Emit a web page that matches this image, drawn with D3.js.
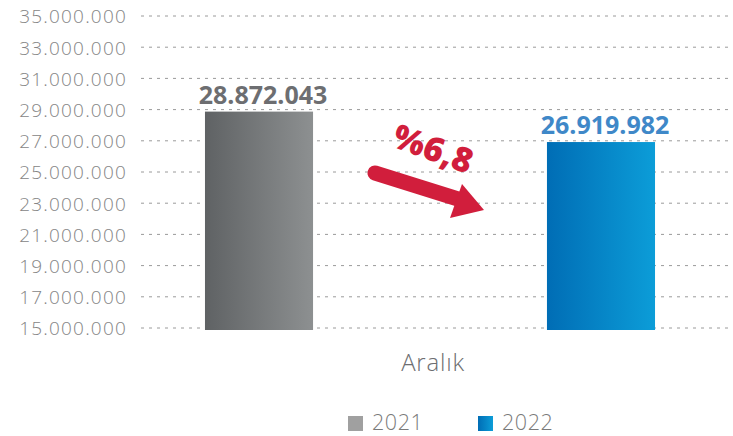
<!DOCTYPE html>
<html><head><meta charset="utf-8">
<script src="https://cdn.jsdelivr.net/npm/d3@7"></script>
<style>
html,body{margin:0;padding:0;background:#fff;}
svg{display:block;font-family:"Open Sans",sans-serif;}
</style></head>
<body>
<svg id="chart" width="733" height="436"></svg>
<script>
const categories = ["Aralık"];
const series = ["2021", "2022"];
const values = [28872043, 26919982];
const yTicks = [15000000,17000000,19000000,21000000,23000000,25000000,27000000,29000000,31000000,33000000,35000000];
const changeLabel = "%6,8";

const svg = d3.select("#chart");
const loc = d3.formatLocale({decimal: ",", thousands: ".", grouping: [3], currency: ["", ""]});
const fmt = loc.format(",");

const y = d3.scaleLinear().domain([15000000, 35000000]).range([328, 16]);
const x0 = d3.scaleBand().domain(categories).range([140, 720]);
const x1 = d3.scaleBand().domain(series).range([0, x0.bandwidth()]).paddingInner(0.684).paddingOuter(0.19);

const defs = svg.append("defs");
const gradColors = {"2021": ["#5f6264", "#8d9091"], "2022": ["#006db5", "#0c9dd8"]};
series.forEach((s, i) => {
  const g = defs.append("linearGradient").attr("id", "g" + i).attr("x1", "0").attr("x2", "1").attr("y1", "0").attr("y2", "0");
  g.append("stop").attr("offset", "0").attr("stop-color", gradColors[s][0]);
  g.append("stop").attr("offset", "1").attr("stop-color", gradColors[s][1]);
});

// grid + axis
const yAxis = d3.axisLeft(y).tickValues(yTicks).tickFormat(fmt).tickSize(0).tickPadding(0);
const ax = svg.append("g").attr("transform", "translate(127,0)").call(yAxis);
ax.select(".domain").remove();
ax.selectAll("text").attr("fill", "#858585").style("font-size", "19px").style("font-weight", "300").style("letter-spacing", "1.2px")
  .style("font-family", "'Open Sans',sans-serif").attr("dy", "0.36em");

svg.append("g").selectAll("line").data(yTicks).join("line")
  .attr("x1", 141).attr("x2", 733)
  .attr("y1", d => y(d)).attr("y2", d => y(d))
  .attr("stroke", "#9a9a9a").attr("stroke-width", 1).attr("stroke-dasharray", "3,5");

// bars
const cat = svg.append("g").selectAll("g").data(categories).join("g")
  .attr("transform", d => `translate(${x0(d)},0)`);
cat.selectAll("rect").data(series.map((s, i) => ({s, v: values[i], i}))).join("rect")
  .attr("x", d => x1(d.s)).attr("width", x1.bandwidth())
  .attr("y", d => y(d.v)).attr("height", d => y(15000000) - y(d.v) + 2)
  .attr("fill", d => `url(#g${d.i})`);

const labelColors = ["#6d6e71", "#3f88c8"];
cat.selectAll("text.val").data(series.map((s, i) => ({s, v: values[i], i}))).join("text")
  .attr("class", "val")
  .attr("x", d => x1(d.s) + x1.bandwidth() / 2 + 4)
  .attr("y", d => y(d.v) - 8)
  .attr("text-anchor", "middle")
  .attr("fill", d => labelColors[d.i])
  .style("font-size", "25px").style("font-weight", "700")
  .text(d => fmt(d.v));

// category label
svg.append("g").selectAll("text").data(categories).join("text")
  .attr("x", d => x0(d) + x0.bandwidth() / 2 + 3)
  .attr("y", 371)
  .attr("text-anchor", "middle")
  .attr("fill", "#6d6e71")
  .style("font-size", "24px").style("font-weight", "300").style("letter-spacing", "0.8px")
  .text(d => d);

// arrow
const red = "#d11e3c";
svg.append("line").attr("x1", 375).attr("y1", 173).attr("x2", 458).attr("y2", 199)
  .attr("stroke", red).attr("stroke-width", 15).attr("stroke-linecap", "round");
svg.append("path").attr("d", "M462,184 L484,210 L450,218 Z").attr("fill", red);
svg.append("text").attr("transform", "translate(429,160) rotate(20)")
  .attr("text-anchor", "middle").attr("fill", red)
  .style("font-size", "34px").style("font-weight", "800")
  .text(changeLabel);

// legend
const legColors = ["#a0a0a0", null];
const leg = svg.append("g").selectAll("g").data(series).join("g")
  .attr("transform", (d, i) => `translate(${348 + i * 130},416)`);
leg.append("rect").attr("width", 15).attr("height", 15)
  .attr("fill", (d, i) => legColors[i] || `url(#g${i})`);
leg.append("text").attr("x", 24).attr("y", 14)
  .attr("fill", "#7a7a7a").style("font-size", "21.5px").style("font-weight", "300").style("letter-spacing", "0.6px")
  .text(d => d);
</script>
</body></html>
